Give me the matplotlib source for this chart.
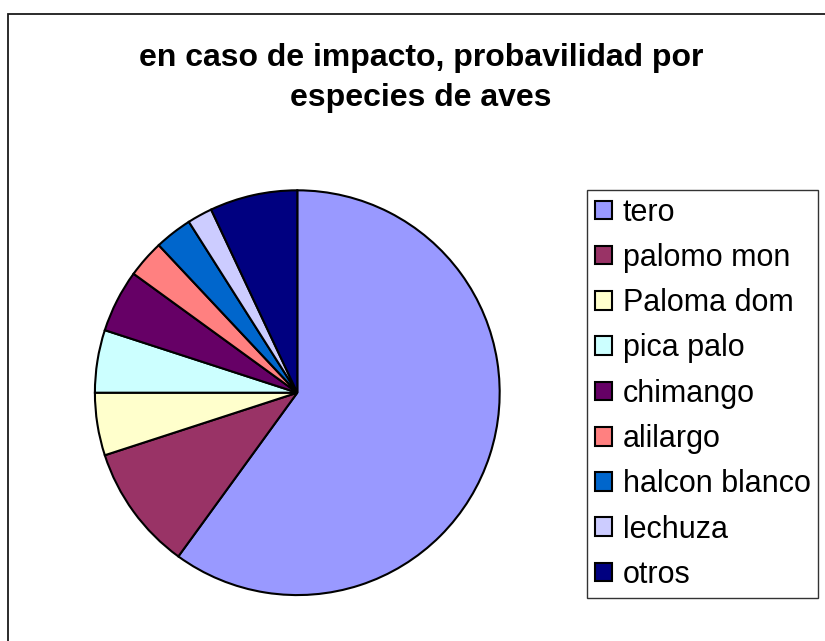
import matplotlib.pyplot as plt
from matplotlib.patches import Rectangle

plt.rcParams['font.family'] = ['Liberation Sans', 'DejaVu Sans']

# data (percent)
species = ['tero', 'palomo mon', 'Paloma dom', 'pica palo', 'chimango',
           'alilargo', 'halcon blanco', 'lechuza', 'otros']
share = [60, 10, 5, 5, 5, 3, 3, 2, 7]
colors = ['#9999FF', '#993366', '#FFFFCC', '#CCFFFF', '#660066',
          '#FF8080', '#0066CC', '#CCCCFF', '#000080']

W, H = 825, 641
fig = plt.figure(figsize=(W / 100, H / 100), dpi=100)

# outer chart frame (cut off on right and bottom like the original)
fig.patches.append(Rectangle((8 / W, -0.1), 1.2, (H - 14) / H + 0.1,
                             transform=fig.transFigure, fill=False,
                             edgecolor='#1a1a1a', linewidth=1.3))

# pie: centre ~(297, 393) px, radius ~204 px
cx, cy, r = 297.3, 392.7, 204.4
ax = fig.add_axes([(cx - r) / W, (H - cy - r) / H, 2 * r / W, 2 * r / H])
wedges, _ = ax.pie(share, colors=colors, startangle=90, counterclock=False,
                   radius=1.0,
                   wedgeprops=dict(edgecolor='black', linewidth=1.5))
ax.set_xlim(-1.01, 1.01)
ax.set_ylim(-1.01, 1.01)
ax.set_aspect('auto')
ax.axis('off')

fig.text(421 / W, 1 - 78 / H,
         'en caso de impacto, probavilidad por\nespecies de aves',
         ha='center', va='center', fontsize=23, fontweight='bold',
         linespacing=1.4)

leg = fig.legend(wedges, species, loc='upper left',
                 bbox_to_anchor=(587 / W, 1 - 190 / H),
                 bbox_transform=fig.transFigure, borderaxespad=0,
                 fontsize=22, frameon=True, fancybox=False, shadow=False,
                 handlelength=0.56, handleheight=0.56, handletextpad=0.36,
                 labelspacing=0.5, borderpad=0.25)
leg.get_frame().set_edgecolor('black')
leg.get_frame().set_linewidth(1.0)
for h in leg.legend_handles:
    h.set_linewidth(1.5)

fig.savefig('out.png', dpi=100)
